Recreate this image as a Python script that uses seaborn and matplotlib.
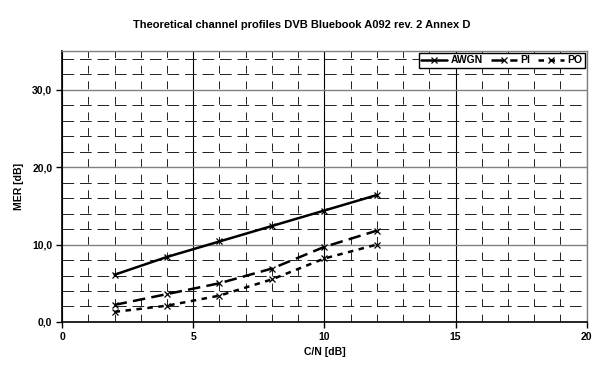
import matplotlib
matplotlib.use("Agg")
import matplotlib.pyplot as plt
import seaborn as sns
import pandas as pd
from matplotlib.ticker import MultipleLocator, FuncFormatter

sns.set_theme(style="white")
plt.rcParams['font.family'] = ['Liberation Sans', 'DejaVu Sans']
plt.rcParams['font.weight'] = 'bold'
plt.rcParams['text.color'] = 'black'
plt.rcParams['axes.labelcolor'] = 'black'
plt.rcParams['xtick.color'] = 'black'
plt.rcParams['ytick.color'] = 'black'

cn = [2, 4, 6, 8, 10, 12]
awgn = [6.1, 8.4, 10.4, 12.4, 14.4, 16.4]
pi = [2.2, 3.6, 5.0, 6.9, 9.7, 11.8]
po = [1.3, 2.1, 3.4, 5.5, 8.2, 10.0]
series_names = ["AWGN", "PI", "PO"]

df = pd.concat([
    pd.DataFrame({"C/N": cn, "MER": awgn, "series": "AWGN"}),
    pd.DataFrame({"C/N": cn, "MER": pi, "series": "PI"}),
    pd.DataFrame({"C/N": cn, "MER": po, "series": "PO"}),
])

fig = plt.figure(figsize=(6.03, 3.65), dpi=100)
ax = fig.add_axes([0.103, 0.118, 0.870, 0.742])

sns.lineplot(data=df, x="C/N", y="MER", hue="series", style="series",
             hue_order=series_names, style_order=series_names,
             palette=["black", "black", "black"],
             dashes={"AWGN": "", "PI": (5, 2.5), "PO": (2.2, 2.2)},
             markers={"AWGN": "x", "PI": "x", "PO": "x"},
             markersize=4.5, markeredgewidth=0.9, markeredgecolor="black",
             linewidth=1.8, ax=ax, zorder=5)

ax.set_xlim(0, 20)
ax.set_ylim(0, 35)
ax.xaxis.set_major_locator(MultipleLocator(5))
ax.xaxis.set_minor_locator(MultipleLocator(1))
ax.yaxis.set_major_locator(MultipleLocator(10))
ax.yaxis.set_minor_locator(MultipleLocator(2))
ax.yaxis.set_major_formatter(FuncFormatter(lambda v, p: f"{v:.1f}".replace(".", ",")))

ax.grid(which="minor", axis="y", color="#202020", linestyle=(0, (12, 6)), linewidth=0.7)
ax.grid(which="minor", axis="x", color="#202020", linestyle=(0, (8, 8)), linewidth=0.7)
ax.grid(which="major", axis="x", color="black", linestyle="-", linewidth=0.8)
ax.grid(which="major", axis="y", color="#808080", linestyle="-", linewidth=1.0)
ax.set_axisbelow(True)

ax.tick_params(axis="both", which="major", direction="out", length=4, width=1,
               color="black", labelsize=7.5, bottom=True, left=True, pad=3,
               labelcolor="black")
ax.tick_params(which="minor", length=0)
for s in ["left", "bottom"]:
    ax.spines[s].set_color("black")
    ax.spines[s].set_linewidth(1.2)
for s in ["top", "right"]:
    ax.spines[s].set_color("#808080")
    ax.spines[s].set_linewidth(1.0)

ax.set_xlabel("C/N [dB]", fontsize=7.5, fontweight="bold", labelpad=4, color="black")
ax.set_ylabel("MER [dB]", fontsize=7.5, fontweight="bold", labelpad=6, color="black")
fig.suptitle("Theoretical channel profiles DVB Bluebook A092 rev. 2 Annex D",
             fontsize=8, fontweight="bold", y=0.945, color="black")

leg = ax.legend(loc="upper right", ncol=3, fontsize=7.5, frameon=True,
                fancybox=False, edgecolor="black", handlelength=2.5,
                handletextpad=0.3, columnspacing=0.8, borderpad=0.25,
                borderaxespad=0.15, framealpha=1)
leg.get_frame().set_linewidth(1.0)
for t in leg.get_texts():
    t.set_fontweight("bold")
    t.set_color("black")
for h in leg.legend_handles:
    h.set_markeredgecolor("black")

fig.savefig("out.png", dpi=100, facecolor="white")
